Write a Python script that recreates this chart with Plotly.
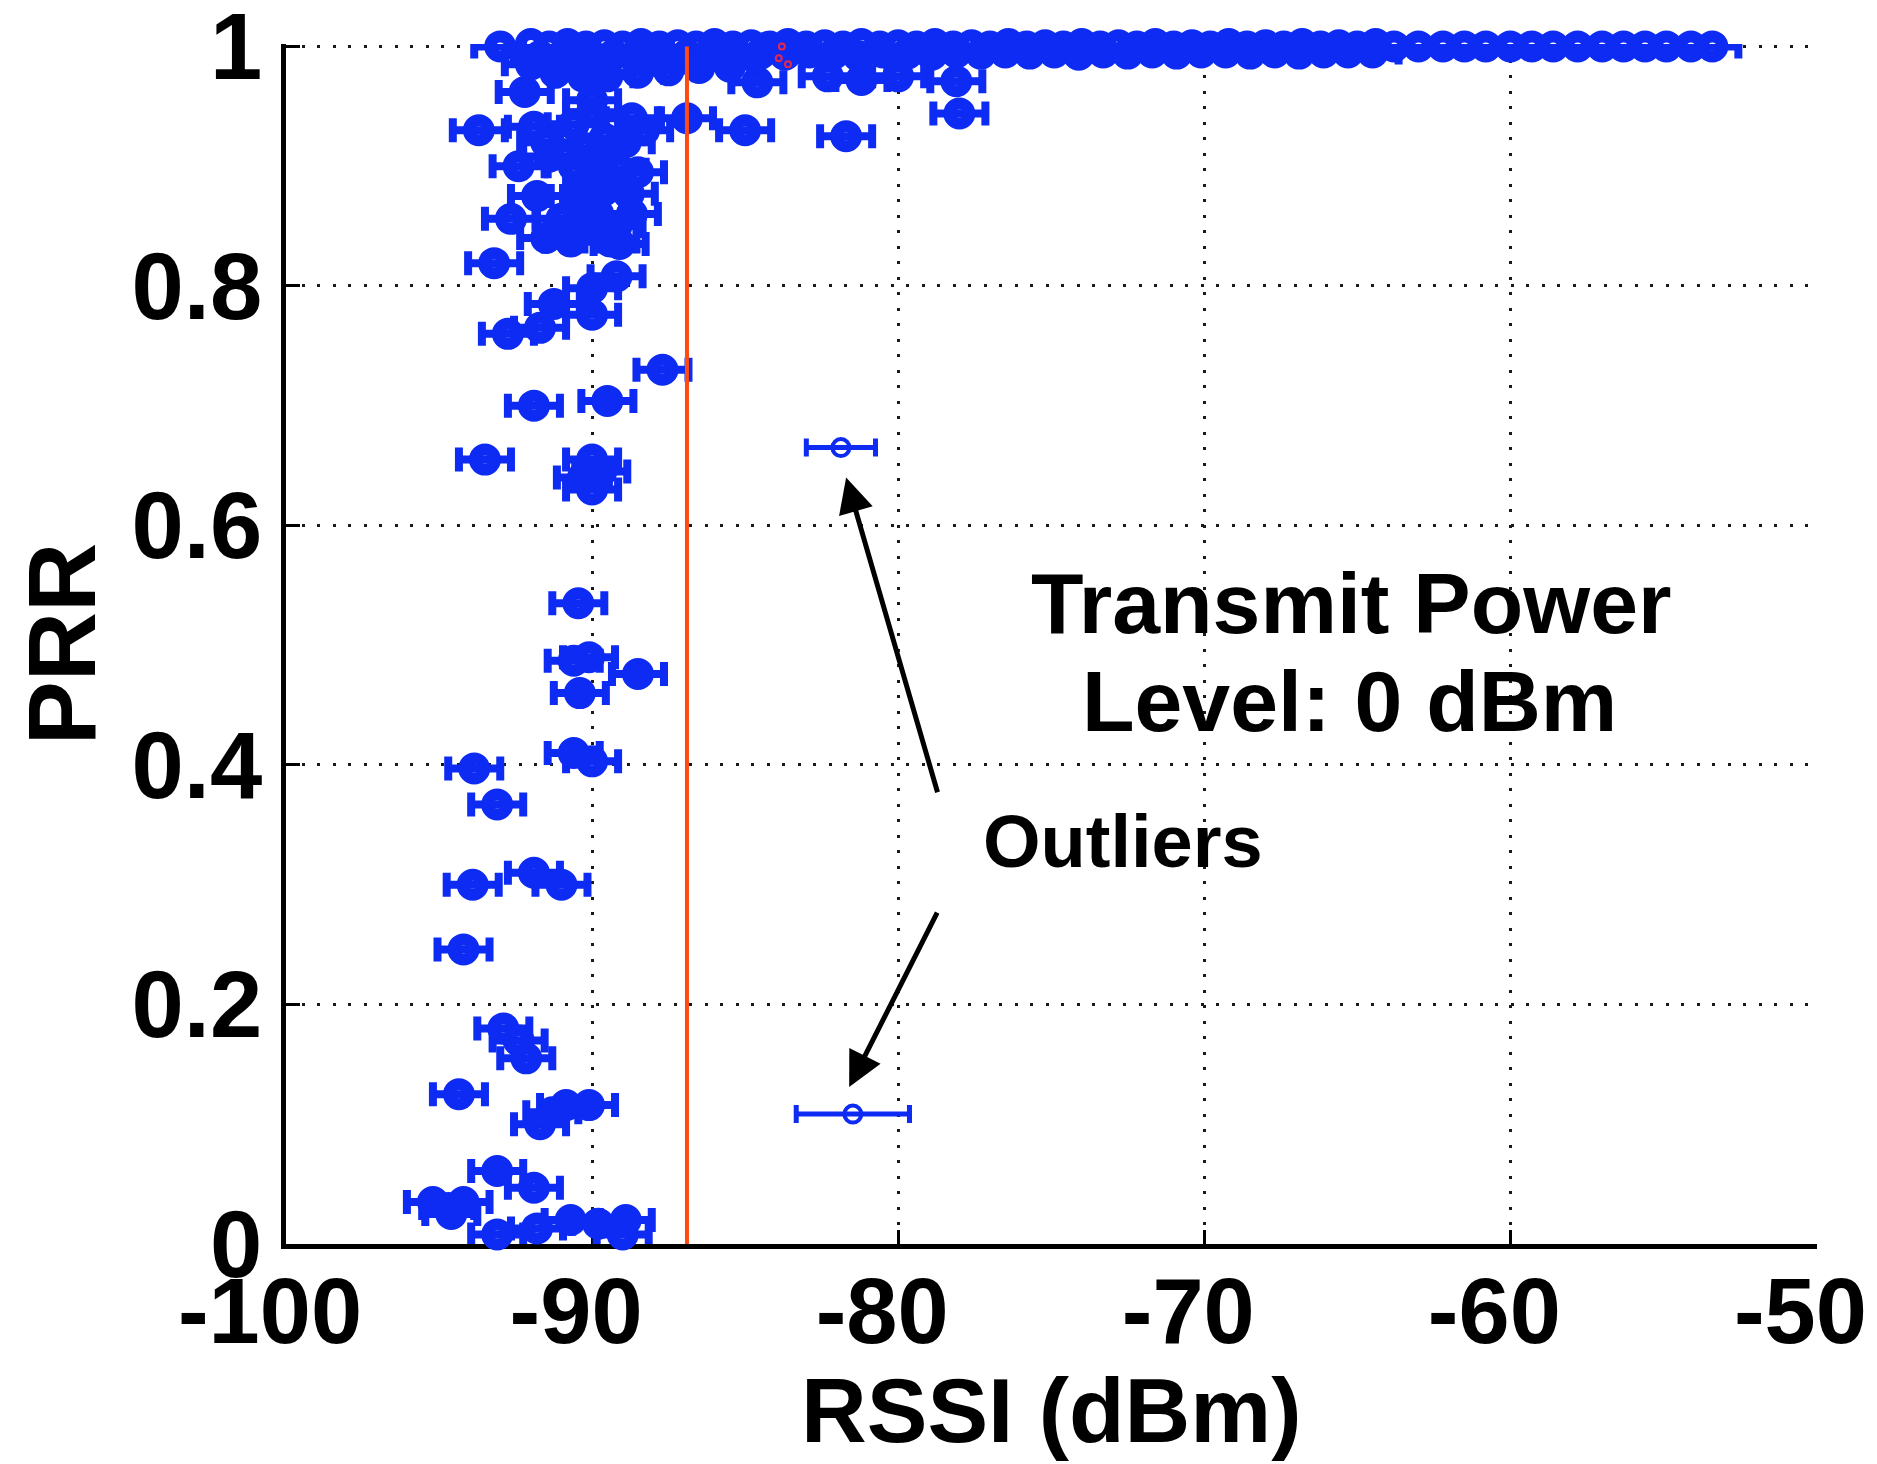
import plotly.graph_objects as go

# ---------------- data ----------------
# dense band of links with PRR ~ 1
band_rssi = [-92.0, -91.4, -90.8, -90.2, -89.6, -89.0, -88.4, -87.8, -87.2, -86.6,
             -86.0, -85.4, -84.8, -84.2, -83.6, -83.0, -82.4, -81.8, -81.2, -80.6,
             -80.0, -79.4, -78.8, -78.2, -77.6, -77.0, -76.4, -75.8, -75.2, -74.6,
             -74.0, -73.4, -72.8, -72.2, -71.6, -71.0, -70.4, -69.8, -69.2, -68.6,
             -68.0, -67.4, -66.8, -66.2, -65.6, -65.0, -64.4, -63.8, -63.0, -62.2,
             -61.5, -60.8, -60.0, -59.3, -58.6, -57.8, -57.0, -56.3, -55.6, -54.9,
             -54.1, -53.4]
band_prr = [1.002, 1.0, 1.002, 1.0, 1.001, 1.0, 1.002, 1.0, 1.001, 1.0,
            1.002, 1.0, 1.001, 1.0, 1.002, 1.0, 1.001, 1.0, 1.002, 1.0,
            1.001, 1.0, 1.002, 1.0, 1.001, 1.0, 1.002, 1.0, 1.001, 1.0,
            1.002, 1.0, 1.001, 1.0, 1.002, 1.0, 1.001, 1.0, 1.002, 1.0,
            1.001, 1.0, 1.002, 1.0, 1.001, 1.0, 1.002, 1.0, 1.0, 1.0,
            1.0, 1.0, 1.0, 1.0, 1.0, 1.0, 1.0, 1.0, 1.0, 1.0,
            1.0, 1.0]
band2_rssi = [-91.7, -90.9, -90.1, -89.3, -88.5, -87.7, -86.9, -86.1, -85.3, -84.5,
              -83.7, -82.9, -82.1, -81.3, -80.5, -79.7, -78.9, -78.1, -77.3, -76.5,
              -75.7, -74.9, -74.1, -73.3, -72.5, -71.7, -70.9, -70.1, -69.3, -68.5,
              -67.7, -66.9, -66.1, -65.3, -64.5]
band2_prr = [0.992, 0.994, 0.991, 0.993, 0.994, 0.992, 0.993, 0.995, 0.992, 0.994,
             0.993, 0.995, 0.994, 0.992, 0.995, 0.994, 0.993, 0.995, 0.994, 0.995,
             0.994, 0.995, 0.993, 0.995, 0.994, 0.995, 0.994, 0.995, 0.995, 0.994,
             0.995, 0.994, 0.995, 0.995, 0.995]

# scattered links in the transitional region
link_rssi = [-93.0, -92.0, -92.2, -91.2, -90.3, -89.5, -88.5, -87.5, -86.5, -85.5,
             -90.0, -93.7, -91.9, -90.6, -89.6, -88.7, -90.0, -88.3, -86.9, -85.0,
             -81.7, -84.6, -82.3, -81.2, -80.0, -78.1, -78.0,
             -92.4, -91.4, -90.6, -89.1, -89.8, -88.8, -89.6, -90.5,
             -91.5, -90.2, -88.9, -91.8, -90.0, -89.2, -91.5, -90.3, -88.5,
             -92.65, -91.0, -89.8, -88.7, -90.7, -89.4, -89.1,
             -93.2, -89.2, -90.0, -91.25, -90.0, -91.7, -92.75,
             -87.7, -91.9, -89.5, -93.5, -90.0, -90.3, -89.7, -90.0,
             -90.45, -90.6, -90.1, -88.5, -90.4, -90.6, -90.0,
             -93.85, -93.1, -93.9, -91.9, -91.0, -94.2,
             -92.9, -92.4, -92.15, -94.35, -91.7, -91.3, -90.85, -90.1,
             -93.1, -91.9, -95.2, -94.7, -94.2, -94.6,
             -93.1, -91.8, -90.7, -89.8, -89.0, -88.9]
link_prr = [1.0, 0.985, 0.962, 0.978, 0.975, 0.975, 0.978, 0.98, 0.982, 0.983,
            0.955, 0.93, 0.933, 0.935, 0.923, 0.94, 0.945, 0.93, 0.94, 0.93,
            0.925, 0.97, 0.975, 0.972, 0.975, 0.971, 0.944,
            0.90, 0.908, 0.90, 0.897, 0.91, 0.877, 0.88, 0.875,
            0.92, 0.915, 0.92, 0.875, 0.89, 0.85, 0.84, 0.855, 0.895,
            0.856, 0.856, 0.86, 0.86, 0.837, 0.837, 0.835,
            0.819, 0.808, 0.798, 0.785, 0.776, 0.765, 0.76,
            0.73, 0.70, 0.704, 0.655, 0.655, 0.64, 0.645, 0.63,
            0.535, 0.487, 0.49, 0.476, 0.46, 0.41, 0.403,
            0.397, 0.367, 0.30, 0.31, 0.30, 0.246,
            0.18, 0.17, 0.155, 0.125, 0.10, 0.11, 0.116, 0.116,
            0.061, 0.047, 0.035, 0.03, 0.035, 0.025,
            0.008, 0.013, 0.02, 0.017, 0.008, 0.02]
link_err = 0.85          # half-width of the RSSI error bars (dBm)

# the two outliers
out_rssi = [-81.87, -81.48]
out_prr = [0.665, 0.1085]
out_err = [1.13, 1.85]

# a few red points hidden in the band
red_rssi = [-83.8, -83.6, -83.9]
red_prr = [1.0, 0.985, 0.99]

threshold_rssi = -86.9   # vertical red line

x_ticks = [-100, -90, -80, -70, -60, -50]
x_ticktext = ["-100", "-90", "-80", "-70", "-60", "-50"]
y_ticks = [0, 0.2, 0.4, 0.6, 0.8, 1]
y_ticktext = ["0", "0.2", "0.4", "0.6", "0.8", "1"]

# ---------------- styles ----------------
BLUE = "#0d2bf2"
FONT = "Liberation Sans"

def blob_trace(xs, ys, err):
    return go.Scatter(
        x=xs, y=ys, mode="markers", cliponaxis=False, showlegend=False,
        marker=dict(symbol="circle-open", size=20, color=BLUE,
                    line=dict(width=12, color=BLUE)),
        error_x=dict(type="constant", value=err, color=BLUE,
                     thickness=8, width=12),
    )

fig = go.Figure()
fig.add_trace(blob_trace(band_rssi, band_prr, link_err))
fig.add_trace(blob_trace(band2_rssi, band2_prr, link_err))
fig.add_trace(blob_trace(link_rssi, link_prr, link_err))
fig.add_trace(go.Scatter(
    x=red_rssi, y=red_prr, mode="markers", cliponaxis=False, showlegend=False,
    marker=dict(symbol="circle-open", size=6, color="#e8284a",
                line=dict(width=2, color="#e8284a")),
))
fig.add_trace(go.Scatter(
    x=out_rssi, y=out_prr, mode="markers", cliponaxis=False, showlegend=False,
    marker=dict(symbol="circle-open", size=17, color=BLUE,
                line=dict(width=4, color=BLUE)),
    error_x=dict(type="data", array=out_err, color=BLUE, thickness=5, width=9),
))

fig.add_shape(type="line", xref="x", yref="y",
              x0=threshold_rssi, x1=threshold_rssi, y0=0, y1=1,
              line=dict(color="#ff4a12", width=4), layer="above")

ann_font = dict(family=FONT, size=86, color="black", weight="bold")
fig.add_annotation(x=-65.2, y=0.535, xref="x", yref="y", text="Transmit Power",
                   showarrow=False, font=ann_font, xanchor="center", yanchor="middle")
fig.add_annotation(x=-65.25, y=0.453, xref="x", yref="y", text="Level: 0 dBm",
                   showarrow=False, font=ann_font, xanchor="center", yanchor="middle")
fig.add_annotation(x=-72.67, y=0.336, xref="x", yref="y", text="Outliers",
                   showarrow=False, xanchor="center", yanchor="middle",
                   font=dict(family=FONT, size=74, color="black", weight="bold"))
for hx, hy, tx, ty in [(-81.7, 0.64, -78.7, 0.376), (-81.6, 0.131, -78.7, 0.278)]:
    fig.add_annotation(x=hx, y=hy, ax=tx, ay=ty, xref="x", yref="y",
                       axref="x", ayref="y", text="", showarrow=True,
                       arrowhead=2, arrowsize=1.4, arrowwidth=5,
                       arrowcolor="black", standoff=0, startstandoff=0)

# x-axis title placed as a paper-anchored annotation for exact placement
fig.add_annotation(x=0.5, y=-0.139, xref="paper", yref="paper", text="RSSI (dBm)",
                   showarrow=False, xanchor="center", yanchor="middle",
                   font=dict(family=FONT, size=91, color="black", weight="bold"))

axis_common = dict(
    showline=True, linewidth=5, linecolor="black",
    ticks="inside", ticklen=14, tickwidth=3, tickcolor="black",
    showgrid=True, gridcolor="#1a1a1a", gridwidth=3, griddash="3px,12.5px",
    zeroline=False, layer="below traces", ticklabeloverflow="allow",
)
fig.update_xaxes(range=[-100, -49.98], tickvals=x_ticks, ticktext=x_ticktext,
                 **axis_common, ticklabelstandoff=-16, ticklabelshift=-16,
                 tickfont=dict(family=FONT, size=92, color="black", weight="bold"))
fig.update_yaxes(range=[0, 1.002], tickvals=y_ticks, ticktext=y_ticktext,
                 **axis_common,
                 tickfont=dict(family=FONT, size=94, color="black", weight="bold"),
                 title=dict(text="PRR", standoff=30,
                            font=dict(family=FONT, size=96, color="black", weight="bold")))

fig.update_layout(
    width=1877, height=1464,
    margin=dict(l=278, r=68, t=36, b=228, autoexpand=False),
    paper_bgcolor="white", plot_bgcolor="white",
    showlegend=False,
)

fig.write_html("out.html")
